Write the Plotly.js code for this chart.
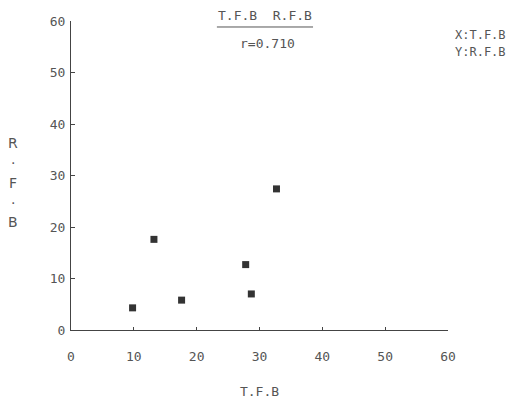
<!DOCTYPE html>
<html>
<head>
<meta charset="utf-8">
<script src="https://cdn.plot.ly/plotly-3.0.1.min.js"></script>
<style>html,body{margin:0;padding:0;background:#fff}#chart{width:512px;height:401px}</style>
</head>
<body>
<div id="chart"></div>
<script>
// Data
const x_tfb = [9.8, 13.2, 17.6, 27.8, 28.7, 32.7];
const y_rfb = [4.3, 17.6, 5.8, 12.7, 7.0, 27.4];
const tickVals = [0, 10, 20, 30, 40, 50, 60];
const tickText = ['0', '10', '20', '30', '40', '50', '60'];
const chartTitle = 'T.F.B  R.F.B';
const rText = 'r=0.710';
const xLabel = 'T.F.B';
const yLetters = ['R', '·', 'F', '·', 'B'];
const legendX = 'X:T.F.B';
const legendY = 'Y:R.F.B';

const FONT = 'DejaVu Sans Mono, monospace';
const TXT = '#555';
const AX = '#444';

const trace = {
  x: x_tfb, y: y_rfb, type: 'scatter', mode: 'markers',
  marker: {symbol: 'square', size: 7, color: '#333'},
  hoverinfo: 'x+y', showlegend: false
};

const yTitlePix = [143, 163, 183, 203, 222];
const annotations = [
  {text: chartTitle, xref: 'paper', yref: 'paper', x: 0.5146, y: 1.0194, showarrow: false, xanchor: 'center', yanchor: 'middle', font: {family: FONT, size: 13, color: TXT}},
  {text: rText, xref: 'paper', yref: 'paper', x: 0.5225, y: 0.9288, showarrow: false, xanchor: 'center', yanchor: 'middle', font: {family: FONT, size: 13, color: TXT}},
  {text: legendX, xref: 'paper', yref: 'paper', x: 1.0133, y: 0.9547, showarrow: false, xanchor: 'left', yanchor: 'middle', font: {family: FONT, size: 12, color: TXT}},
  {text: legendY, xref: 'paper', yref: 'paper', x: 1.0133, y: 0.8997, showarrow: false, xanchor: 'left', yanchor: 'middle', font: {family: FONT, size: 12, color: TXT}}
];
yLetters.forEach((ch, i) => {
  annotations.push({text: ch, xref: 'paper', yref: 'paper', x: (13 - 71) / 377, y: (330 - yTitlePix[i]) / 309,
    showarrow: false, xanchor: 'center', yanchor: 'middle', font: {family: 'DejaVu Sans, sans-serif', size: 14, color: TXT}});
});

const layout = {
  width: 512, height: 401,
  margin: {l: 71, r: 64, t: 21, b: 71, pad: 0},
  paper_bgcolor: '#fff', plot_bgcolor: '#fff',
  showlegend: false,
  font: {family: FONT, size: 13, color: TXT},
  xaxis: {
    range: [0, 60], tickvals: tickVals, ticktext: tickText,
    showgrid: false, zeroline: false, showline: true, linecolor: AX, linewidth: 1,
    ticks: 'inside', ticklen: 3, tickcolor: AX, tickwidth: 1,
    ticklabelstandoff: 14,
    tickfont: {family: FONT, size: 13, color: TXT},
    title: {text: xLabel, font: {family: FONT, size: 13, color: TXT}, standoff: 24},
    fixedrange: true
  },
  yaxis: {
    range: [0, 60], tickvals: tickVals, ticktext: tickText,
    showgrid: false, zeroline: false, showline: true, linecolor: AX, linewidth: 1,
    ticks: 'inside', ticklen: 4, tickcolor: AX, tickwidth: 1,
    ticklabelstandoff: 2,
    tickfont: {family: FONT, size: 13, color: TXT},
    fixedrange: true
  },
  shapes: [
    {type: 'line', xref: 'paper', yref: 'paper', x0: 0.387, x1: 0.642, y0: 0.9806, y1: 0.9806, line: {color: '#555', width: 1}}
  ],
  annotations: annotations
};

Plotly.newPlot('chart', [trace], layout, {staticPlot: true, displayModeBar: false});
</script>
</body>
</html>
